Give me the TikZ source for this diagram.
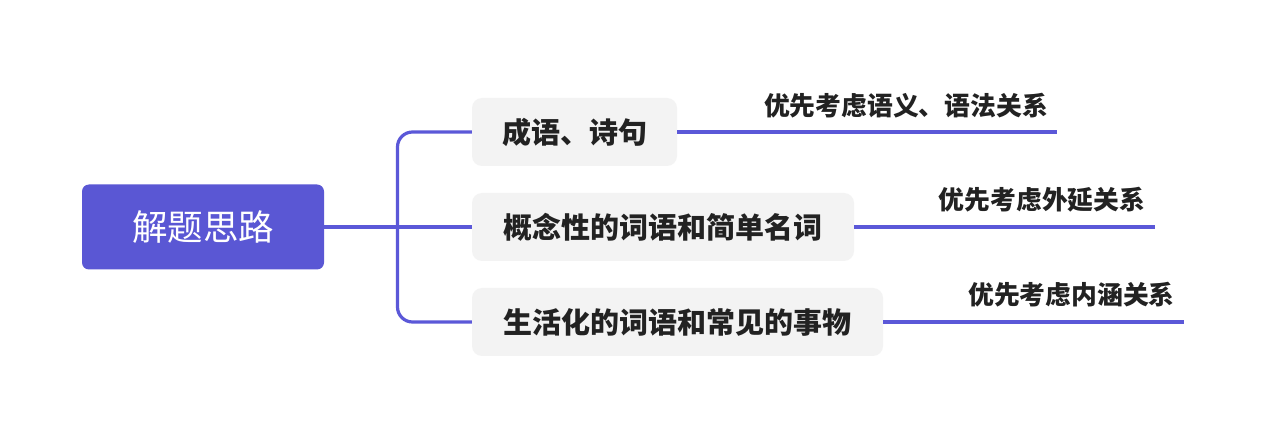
\documentclass[tikz,border=0pt]{standalone}
\usepackage{fontspec}
\newfontfamily\cjk{Noto Sans CJK SC}
\definecolor{mainpurple}{HTML}{5A57D4}
\definecolor{linecol}{HTML}{5B58D8}
\definecolor{boxgray}{HTML}{F3F3F3}
\definecolor{txt}{HTML}{222222}
\tikzset{
  rootbox/.style={fill=mainpurple, rounded corners=7pt, minimum width=242pt, minimum height=85pt, inner sep=0pt, text=white, font=\cjk\fontsize{35.5}{40}\selectfont},
  childbox/.style={fill=boxgray, rounded corners=10pt, minimum height=68pt, inner sep=0pt, text=txt, font=\cjk\bfseries\fontsize{29}{34}\selectfont},
  lbl/.style={anchor=base, inner sep=0pt, text=txt, font=\cjk\bfseries\fontsize{25.8}{30}\selectfont},
  conn/.style={draw=linecol, line width=3.2pt},
}
\begin{document}
\begin{tikzpicture}[x=1pt,y=-1pt]
\path[fill=white] (0,0) rectangle (1267,438);
\useasboundingbox (0,0) rectangle (1267,438);
\node[rootbox] (root) at (203,227) {解题思路};
\node[childbox, minimum width=205pt] (b1) at (574.5,132) {成语、诗句};
\node[childbox, minimum width=382pt] (b2) at (663,227) {概念性的词语和简单名词};
\node[childbox, minimum width=411pt] (b3) at (677.5,322) {生活化的词语和常见的事物};
\coordinate (j) at (397.5,227);
\coordinate (e1) at (1057,132);
\coordinate (e2) at (1155,227);
\coordinate (e3) at (1184,322);
\draw[conn] (root.east) -- (b2.west);
\draw[conn, rounded corners=15pt] (b1.west) -- (b1.west -| j) -- (b3.west -| j) -- (b3.west);
\draw[conn] (b1.east) -- (e1);
\draw[conn] (b2.east) -- (e2);
\draw[conn] (b3.east) -- (e3);
\node[lbl] (l1) at (906,116) {优先考虑语义、语法关系};
\node[lbl] (l2) at (1042,209.5) {优先考虑外延关系};
\node[lbl] (l3) at (1071.5,304.5) {优先考虑内涵关系};
\end{tikzpicture}
\end{document}
